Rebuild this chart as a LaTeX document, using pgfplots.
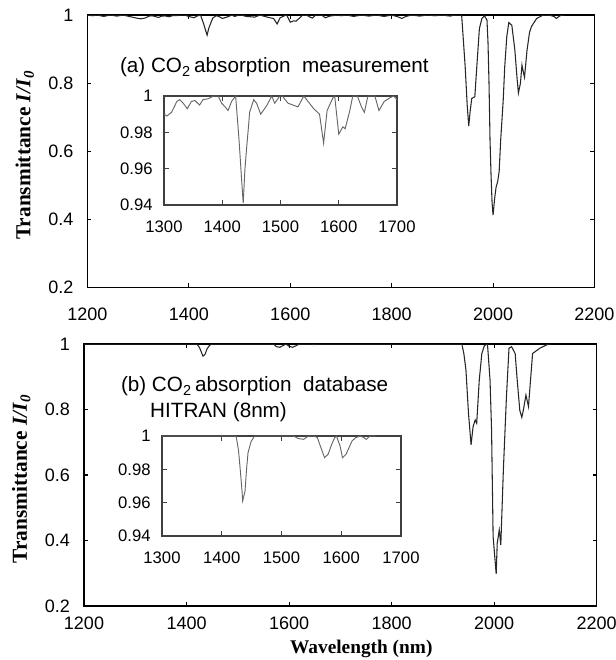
\documentclass[border=0pt]{standalone}
\usepackage{pgfplots}
\usepackage{pgfplotstable}
\pgfplotsset{compat=1.18}
\usepackage{fontspec}
\setmainfont{Liberation Sans}
\newfontfamily\timesfont{Liberation Serif}

\pgfplotstableread{
x y
1200 1.0
1210 0.998
1220 1.0
1232 0.996
1245 1.0
1258 0.997
1270 1.0
1285 0.995
1300 0.990
1305 0.989
1313 0.991
1322 0.997
1327 0.998
1333 0.996
1340 0.993
1347 0.997
1353 0.9975
1361 0.995
1367 0.998
1376 0.9985
1385 1.0
1393 1.0
1399 0.996
1405 0.994
1410 0.992
1416 0.997
1423 1.0
1429 0.975
1433 0.955
1436 0.941
1439 0.960
1442 0.972
1445 0.983
1447 0.991
1454 0.998
1459 0.996
1466 0.990
1476 0.9945
1485 1.0
1490 0.996
1499 1.0
1503 1.0
1513 0.996
1530 0.994
1540 1.0
1557 0.993
1567 0.990
1574 0.974
1580 0.992
1590 0.999
1593 1.0
1600 0.979
1607 0.983
1611 0.982
1619 0.992
1624 1.0
1632 1.0
1639 0.994
1644 0.991
1650 1.0
1662 1.0
1669 0.992
1678 0.997
1688 0.999
1694 1.0
1700 0.998
1712 1.0
1725 0.996
1740 1.0
1755 0.997
1770 1.0
1785 0.996
1800 1.0
1812 0.995
1820 0.990
1828 0.996
1840 1.0
1855 0.997
1870 1.0
1885 0.998
1900 1.0
1915 0.997
1925 1.0
1938 1.0
1945 0.848
1949 0.735
1952 0.674
1955 0.720
1958 0.755
1964 0.760
1968 0.850
1973 0.960
1978 0.990
1983 0.998
1988 0.985
1990 0.920
1992 0.800
1994 0.632
1996 0.530
1998 0.450
2000 0.412
2003 0.460
2006 0.495
2009 0.510
2012 0.540
2015 0.632
2020 0.750
2023 0.848
2027 0.936
2031 0.978
2037 0.970
2043 0.897
2047 0.820
2050 0.771
2054 0.800
2057 0.853
2060 0.830
2062 0.817
2067 0.897
2072 0.950
2076 0.967
2086 0.990
2099 1.0
2110 1.0
2120 0.996
2125 0.990
2130 0.996
2135 1.0
2140 1.0
}\topdata

\pgfplotstableread{
x y
1200 1.0
1420 1.0
1425 0.990
1429 0.975
1432 0.963
1436 0.968
1440 0.985
1445 0.996
1450 1.0
1570 1.0
1575 0.992
1582 0.990
1588 0.995
1594 1.0
1600 0.993
1607 0.990
1614 0.995
1620 1.0
1645 1.0
1650 0.998
1655 1.0
1937 1.0
1941 0.970
1945 0.921
1950 0.788
1955 0.692
1959 0.748
1963 0.768
1966 0.758
1971 0.890
1976 0.971
1981 0.995
1987 1.0
1992 0.890
1995 0.737
1998 0.412
2004 0.298
2006 0.391
2010 0.432
2013 0.386
2018 0.615
2024 0.839
2029 0.987
2034 0.992
2041 0.971
2045 0.890
2050 0.798
2054 0.776
2057 0.798
2062 0.844
2067 0.809
2071 0.890
2075 0.971
2089 0.987
2106 1.0
2110 1.0
}\botdata

\pgfplotstableread{
x y
1300 1.0
1424 1.0
1428 0.9916
1431 0.9796
1434 0.9666
1435 0.961
1439 0.967
1441.5 0.980
1444 0.990
1449 0.9966
1455 1.0
1520 1.0
1528 0.9985
1537 0.998
1545 1.0
1555 1.0
1560 0.999
1565 0.994
1572 0.987
1578 0.989
1584 0.995
1589 0.999
1592 1.0
1598 0.994
1602 0.987
1608 0.989
1613 0.993
1618 0.997
1624 0.999
1632 1.0
1638 0.999
1642 0.998
1648 1.0
1658 1.0
}\botinset

\pgfplotsset{
  mainstyle/.style={
    scale only axis, anchor=south west,
    xmin=1200, xmax=2200, ymin=0.2, ymax=1,
    xtick={1200,1400,1600,1800,2000,2200},
    ytick={0.2,0.4,0.6,0.8,1},
    tick align=inside, major tick length=3pt,
    axis line style={line width=1.1pt, black},
    tick style={line width=0.8pt, black},
    ticklabel style={font=\fontsize{13.5}{15}\selectfont},
    /pgf/number format/1000 sep={},
    /pgf/number format/assume math mode=true,
    yticklabel style={xshift=-7pt},
    every axis y label/.style={at={(rel axis cs:0,0.5)}, xshift=-47pt, yshift=-3pt, rotate=90, anchor=center,
      font=\timesfont\bfseries\fontsize{16}{18}\selectfont},
  },
  insetstyle/.style={
    scale only axis, anchor=south west,
    xmin=1300, xmax=1700, ymin=0.94, ymax=1,
    xtick={1300,1400,1500,1600,1700},
    ytick={0.94,0.96,0.98,1},
    tick align=inside, major tick length=4pt,
    axis line style={line width=0.9pt, black!75},
    tick style={line width=0.7pt, black!75},
    ticklabel style={font=\fontsize{12.5}{14}\selectfont},
    /pgf/number format/1000 sep={},
    /pgf/number format/assume math mode=true,
    xticklabel style={yshift=-8.5pt},
    yticklabel style={xshift=-5pt, /pgf/number format/fixed, /pgf/number format/precision=2},
  },
}

\begin{document}
\begin{tikzpicture}
\path[use as bounding box] (0,0) rectangle (461.25pt,495pt);

% top main
\begin{axis}[mainstyle, at={(65.6pt,279.5pt)}, width=380.25pt, height=204.2pt,
  xticklabel style={yshift=-12pt},
  ylabel={Transmittance \textit{I/I}\textsubscript{\textit{0}}}]
\addplot[black!85, line width=0.8pt, mark=none] table[x=x,y=y] {\topdata};
\node[anchor=base west, font=\fontsize{15.5}{18}\selectfont] at (axis cs:1255,0.83)
  {(a) CO\textsubscript{2}\,absorption\ \ measurement};
\end{axis}

% top inset
\begin{axis}[insetstyle, at={(123pt,341.25pt)}, width=174.75pt, height=81.75pt]
\addplot[black!60, line width=0.7pt, mark=none, restrict x to domain=1300:1700] table[x=x,y=y] {\topdata};
\end{axis}

% bottom main
\begin{axis}[mainstyle, at={(63pt,40.5pt)}, width=384.5pt, height=196.5pt,
  xticklabel style={yshift=-5pt},
  ylabel={Transmittance \textit{I/I}\textsubscript{\textit{0}}},
  xlabel={Wavelength (nm)},
  every axis x label/.style={at={(rel axis cs:0.5,0)}, xshift=15.75pt, yshift=-32pt, anchor=center,
      font=\timesfont\bfseries\fontsize{14.5}{16}\selectfont}]
\addplot[black!85, line width=0.8pt, mark=none] table[x=x,y=y] {\botdata};
\node[anchor=base west, font=\fontsize{15.5}{18}\selectfont] at (axis cs:1263,0.854)
  {(b) CO\textsubscript{2}\,absorption\ \ database};
\node[anchor=base west, font=\fontsize{15.5}{18}\selectfont] at (axis cs:1320,0.776)
  {HITRAN (8nm)};
\end{axis}

% bottom inset
\begin{axis}[insetstyle, at={(121.5pt,93pt)}, width=179.25pt, height=75pt]
\addplot[black!60, line width=0.7pt, mark=none] table[x=x,y=y] {\botinset};
\end{axis}
\end{tikzpicture}
\end{document}
